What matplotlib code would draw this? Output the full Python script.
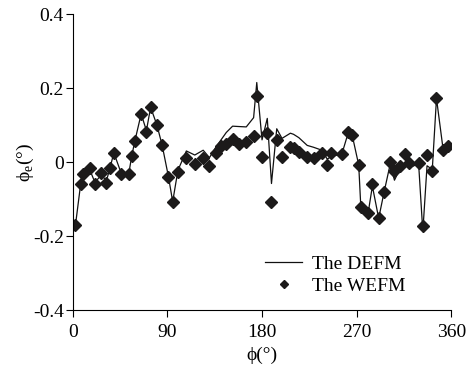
import matplotlib
matplotlib.use('Agg')
import matplotlib.pyplot as plt

plt.rcParams['font.family'] = ['Liberation Serif', 'DejaVu Serif']
plt.rcParams['mathtext.fontset'] = 'custom'
plt.rcParams['mathtext.rm'] = 'Liberation Serif'
plt.rcParams['axes.unicode_minus'] = False

# measurement angles (deg)
phi = [2.5, 7.5, 10, 16, 21, 27, 32, 35, 39, 46, 53, 56, 59, 65, 70, 74, 80, 85,
       91, 95, 100, 108, 116, 124, 130, 136, 141, 146, 152, 158, 165, 172, 175,
       180, 185, 189, 194, 199, 207, 210, 215, 223, 229, 237, 242, 246, 256, 262,
       266, 272, 274, 281, 285, 291, 296, 302, 306, 311, 316, 320, 329, 333, 337,
       342, 346, 352, 357]

defm = [-0.17, -0.058, -0.035, -0.02, -0.055, -0.035, -0.05, -0.02, 0.025, -0.03,
        -0.035, 0.016, 0.057, 0.13, 0.085, 0.148, 0.10, 0.045, -0.04, -0.107,
        -0.022, 0.03, 0.019, 0.032, 0.012, 0.04, 0.06, 0.08, 0.097, 0.096, 0.095,
        0.12, 0.215, 0.06, 0.118, -0.058, 0.09, 0.064, 0.078, 0.075, 0.066, 0.045,
        0.04, 0.032, 0.008, 0.015, 0.022, 0.079, 0.07, -0.008, -0.121, -0.137,
        -0.065, -0.152, -0.083, -0.005, -0.049, -0.02, -0.008, -0.015, -0.005,
        -0.188, -0.01, -0.02, 0.172, 0.041, 0.041]

wefm = [-0.17, -0.058, -0.033, -0.017, -0.058, -0.029, -0.056, -0.015, 0.025, -0.031,
        -0.033, 0.016, 0.057, 0.13, 0.082, 0.148, 0.10, 0.046, -0.04, -0.107,
        -0.028, 0.012, -0.004, 0.010, -0.010, 0.025, 0.043, 0.05, 0.062, 0.05, 0.055,
        0.07, 0.178, 0.014, 0.078, -0.107, 0.059, 0.013, 0.04, 0.037, 0.028, 0.014,
        0.01, 0.024, -0.008, 0.024, 0.022, 0.08, 0.072, -0.008, -0.121, -0.137,
        -0.06, -0.152, -0.082, 0.0, -0.024, -0.01, 0.022, -0.003, -0.003,
        -0.173, 0.018, -0.023, 0.172, 0.032, 0.043]

xticks = [0, 90, 180, 270, 360]
yticks = [-0.4, -0.2, 0, 0.2, 0.4]
ytick_labels = ['-0.4', '-0.2', '0', '0.2', '0.4']

fig = plt.figure(figsize=(4.7, 3.7), dpi=100)
ax = fig.add_axes([0.155, 0.162, 0.805, 0.800])

ax.plot(phi, defm, color='#111111', linewidth=0.9, label='The DEFM')
ax.plot(phi, wefm, linestyle='none', marker='D', markersize=6,
        color='#1c1a1a', label='The WEFM')

ax.set_xlim(0, 360)
ax.set_ylim(-0.4, 0.4)
ax.set_xticks(xticks)
ax.set_yticks(yticks)
ax.set_yticklabels(ytick_labels)
ax.tick_params(direction='out', length=5, width=0.8, labelsize=14)
ax.tick_params(axis='x', pad=5)
ax.tick_params(axis='y', pad=1.5)
ax.spines['top'].set_visible(False)
ax.spines['right'].set_visible(False)

ax.set_xlabel('ϕ(°)', fontsize=14, labelpad=4)
ax.set_ylabel(r'ϕ$_\mathrm{e}$(°)', fontsize=14, labelpad=-2)

ax.legend(loc='lower left', bbox_to_anchor=(0.472, 0.006), frameon=False,
          fontsize=14, handlelength=1.9, handletextpad=0.5, labelspacing=0.2,
          markerscale=0.75, borderaxespad=0.3)

fig.savefig('out.png', dpi=100)
